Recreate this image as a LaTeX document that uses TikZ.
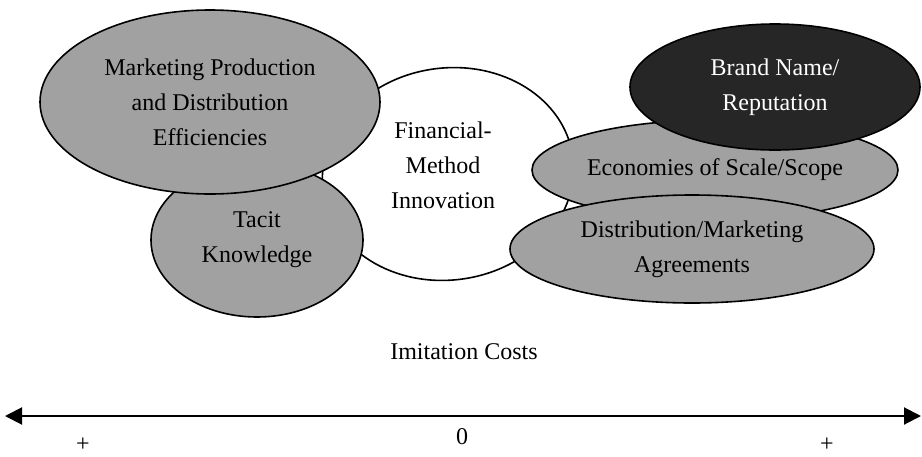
\documentclass[tikz,border=0pt]{standalone}
\usepackage{fontspec}
\setmainfont{Liberation Serif}
\usetikzlibrary{shapes.geometric,arrows.meta}
\begin{document}
\begin{tikzpicture}[x=1pt,y=-1pt,
  blob/.style={ellipse, draw=black, line width=1.6pt, inner sep=0pt, align=center, font=\fontsize{24}{35}\selectfont},
  greyblob/.style={blob, fill=black!37},
  darkblob/.style={blob, fill=black!85, text=white},
  lbl/.style={font=\fontsize{24}{35}\selectfont, align=center, inner sep=0pt},
  plainlbl/.style={font=\fontsize{24}{28}\selectfont, inner sep=0pt},
  axis/.style={line width=2pt, {Triangle[length=17pt,width=17pt]}-{Triangle[length=17pt,width=17pt]}}]
\useasboundingbox (0,0) rectangle (922,456);
\fill[white] (0,0) rectangle (922,456);
% Financial-Method Innovation (white, behind)
\node[blob, fill=white, minimum width=252pt, minimum height=212pt, rotate=8] (fin) at (448,174) {};
\node[lbl] (fintext) at (443,165) {Financial-\\Method\\Innovation};
% left cluster
\node[greyblob, minimum width=212pt, minimum height=154pt] (tacit) at (257,240) {Tacit\\Knowledge};
\node[greyblob, minimum width=340pt, minimum height=184pt] (mpd) at (210,102) {Marketing Production\\and Distribution\\Efficiencies};
% right cluster
\node[greyblob, minimum width=366pt, minimum height=100pt] (eco) at (715,170) {Economies of Scale/Scope};
\node[greyblob, minimum width=364pt, minimum height=108pt] (dist) at (692,249) {Distribution/Marketing\\Agreements};
\node[darkblob, minimum width=290pt, minimum height=126pt] (brand) at (775,87) {Brand Name/\\Reputation};
% axis
\node[plainlbl] (ic) at (464,352) {Imitation Costs};
\coordinate (axL) at (5,416);
\coordinate (axR) at (921,416);
\draw[axis] (axL) -- (axR);
\node[plainlbl] (zero) at (462,437) {0};
\node[plainlbl] (plusL) at (83,445) {+};
\node[plainlbl] (plusR) at (827,445) {+};
\end{tikzpicture}
\end{document}
